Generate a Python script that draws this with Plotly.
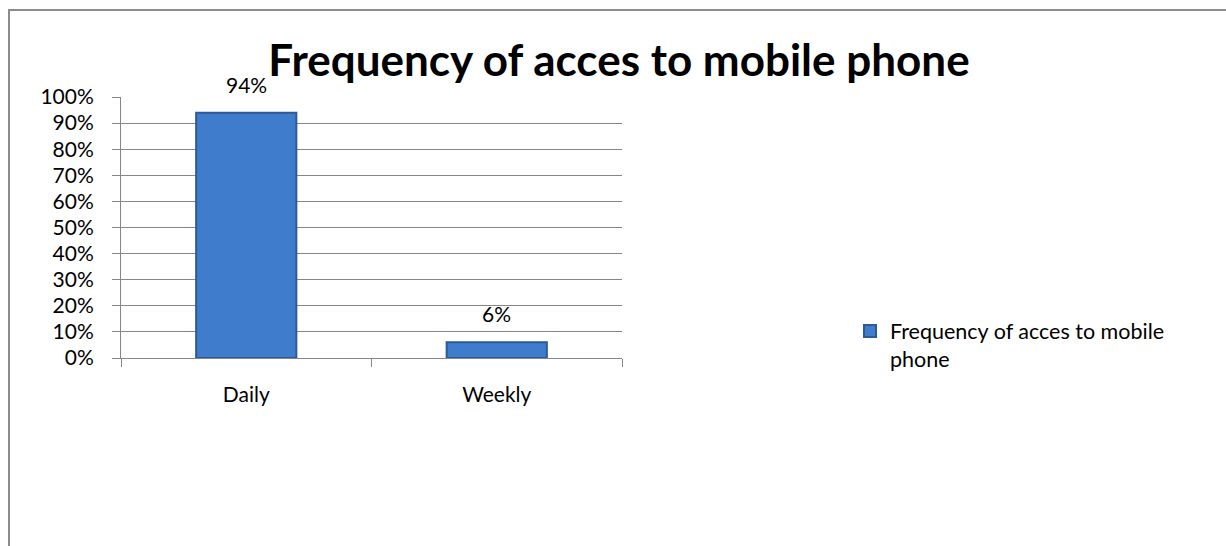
import plotly.graph_objects as go

categories = ["Daily", "Weekly"]
values = [0.94, 0.06]
value_labels = ["94%", "6%"]
series_name = "Frequency of acces to mobile<br>phone"
title_text = "Frequency of acces to mobile phone"
y_ticks = [i / 10 for i in range(11)]
y_tick_labels = [f"{i*10}%" for i in range(11)]

W, H = 1226, 546
L, R, T, B = 121, 604, 97, 188
PW, PH = W - L - R, H - T - B
FONT = "Lato, Carlito, Calibri, sans-serif"

fig = go.Figure()
fig.add_trace(go.Bar(
    x=categories, y=values, name=series_name, width=0.4,
    marker=dict(color="#3f7dcc", line=dict(color="#2c5a98", width=2)),
    showlegend=True,
))

for c, v, t in zip(categories, values, value_labels):
    fig.add_annotation(x=c, y=v, text=t, showarrow=False, yanchor="bottom",
                       yshift=14, font=dict(size=21, family=FONT, color="#000000"))

fig.update_layout(
    width=W, height=H,
    margin=dict(l=L, r=R, t=T, b=B, autoexpand=False),
    paper_bgcolor="white", plot_bgcolor="white",
    title=dict(text="<b>" + title_text + "</b>", x=619 / W, xanchor="center",
               y=1 - 61 / H, yanchor="middle",
               font=dict(size=44, family=FONT, color="#000000")),
    font=dict(family=FONT, color="#000000", size=21),
    showlegend=True,
    legend=dict(x=(850 - L) / PW, y=(H - 345 - B) / PH, xanchor="left", yanchor="middle",
                font=dict(size=21.5, family=FONT), bgcolor="rgba(0,0,0,0)",
                valign="top", traceorder="normal"),
    xaxis=dict(showgrid=False, showline=True, linecolor="#868686", linewidth=1,
               ticks="outside", ticklen=8, tickcolor="#868686",
               tickson="boundaries", tickfont=dict(size=21, family=FONT), ticklabelstandoff=18),
    yaxis=dict(range=[0, 1], tickvals=y_ticks, ticktext=y_tick_labels,
               showgrid=True, gridcolor="#868686", gridwidth=1,
               showline=True, linecolor="#868686", linewidth=1,
               ticks="outside", ticklen=8, tickcolor="#868686",
               tickfont=dict(size=21, family=FONT), zeroline=False, ticklabelstandoff=14),
)

# outer chart frame
fig.add_shape(type="rect", xref="paper", yref="paper",
              x0=(9 - L) / PW, x1=(1240 - L) / PW,
              y0=(H - B - 560) / PH, y1=(H - B - 10) / PH,
              line=dict(color="#8c8c8c", width=2), fillcolor="rgba(0,0,0,0)", layer="below")

fig.write_html("out.html")
